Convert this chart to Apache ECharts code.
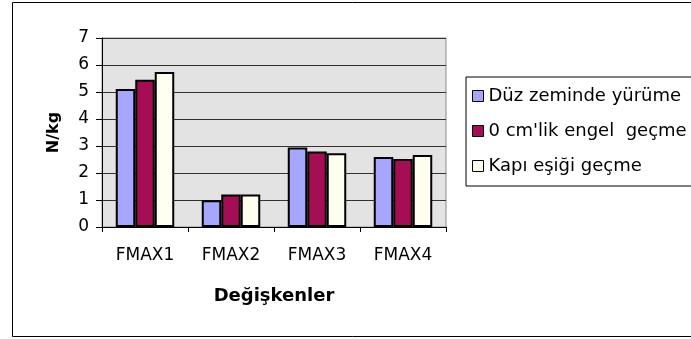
<!DOCTYPE html>
<html>
<head>
<meta charset="utf-8">
<script src="https://cdn.jsdelivr.net/npm/echarts@6/dist/echarts.min.js"></script>
<style>
  html, body { margin: 0; padding: 0; background: #fff; }
  #chart { width: 691px; height: 339px; }
</style>
</head>
<body>
<div id="chart"></div>
<script>
// Categories and measured values (N/kg)
const categories = ['FMAX1', 'FMAX2', 'FMAX3', 'FMAX4'];
const duzZemin = [5.11, 0.99, 2.94, 2.59];
const engelGecme = [5.45, 1.2, 2.8, 2.52];
const esikGecme = [5.74, 1.2, 2.73, 2.67];
const seriesNames = ['Düz zeminde yürüme', "0 cm'lik engel  geçme", 'Kapı eşiği geçme'];
const yTicks = [0, 1, 2, 3, 4, 5, 6, 7];

const FONT = 'DejaVu Sans';
const colors = ['#A6A6FF', '#A50D54', '#FFFFF0'];

const chart = echarts.init(document.getElementById('chart'), null, { renderer: 'canvas' });

const barStyle = (c) => ({ color: c, borderColor: '#000', borderWidth: 2 });

chart.setOption({
  animation: false,
  color: colors,
  graphic: [{
    type: 'rect',
    shape: { x: 12.5, y: 2.5, width: 700, height: 334 },
    style: { fill: 'none', stroke: '#000', lineWidth: 1 },
    silent: true
  }],
  grid: {
    left: 102, top: 38, right: 245, bottom: 112,
    show: true, backgroundColor: '#E3E3E3', borderColor: '#8C8C8C', borderWidth: 1
  },
  legend: {
    orient: 'vertical',
    left: 466, top: 77,
    padding: [9, 40, 10, 6],
    itemGap: 15,
    itemWidth: 11, itemHeight: 11,
    borderColor: '#000', borderWidth: 1, backgroundColor: '#fff',
    icon: 'rect',
    itemStyle: { borderColor: '#000', borderWidth: 1 },
    textStyle: { fontFamily: FONT, fontSize: 18, color: '#000', lineHeight: 20 },
    data: seriesNames
  },
  xAxis: {
    type: 'category',
    data: categories,
    boundaryGap: true,
    axisLine: { show: true, lineStyle: { color: '#000', width: 1 } },
    axisTick: { show: true, alignWithLabel: false, length: 5, lineStyle: { color: '#000' } },
    axisLabel: { fontFamily: FONT, fontSize: 17, color: '#000', margin: 20 },
    name: 'Değişkenler',
    nameLocation: 'middle',
    nameGap: 60,
    nameTextStyle: { fontFamily: FONT, fontSize: 18, fontWeight: 'bold', color: '#000' }
  },
  yAxis: {
    type: 'value',
    min: yTicks[0], max: yTicks[yTicks.length - 1], interval: 1,
    axisLine: { show: true, lineStyle: { color: '#000', width: 1 } },
    axisTick: { show: true, length: 6, lineStyle: { color: '#000' } },
    axisLabel: { fontFamily: FONT, fontSize: 17, color: '#000', margin: 13 },
    splitLine: { show: true, lineStyle: { color: '#333', width: 1 } },
    name: 'N/kg',
    nameLocation: 'middle',
    nameRotate: 90,
    nameGap: 40,
    nameTextStyle: { fontFamily: FONT, fontSize: 16, fontWeight: 'bold', color: '#000' }
  },
  series: [
    { name: seriesNames[0], type: 'bar', data: duzZemin, barGap: '0%', barCategoryGap: '32%', itemStyle: barStyle(colors[0]) },
    { name: seriesNames[1], type: 'bar', data: engelGecme, barGap: '0%', barCategoryGap: '32%', itemStyle: barStyle(colors[1]) },
    { name: seriesNames[2], type: 'bar', data: esikGecme, barGap: '0%', barCategoryGap: '32%', itemStyle: barStyle(colors[2]) }
  ]
});
</script>
</body>
</html>
